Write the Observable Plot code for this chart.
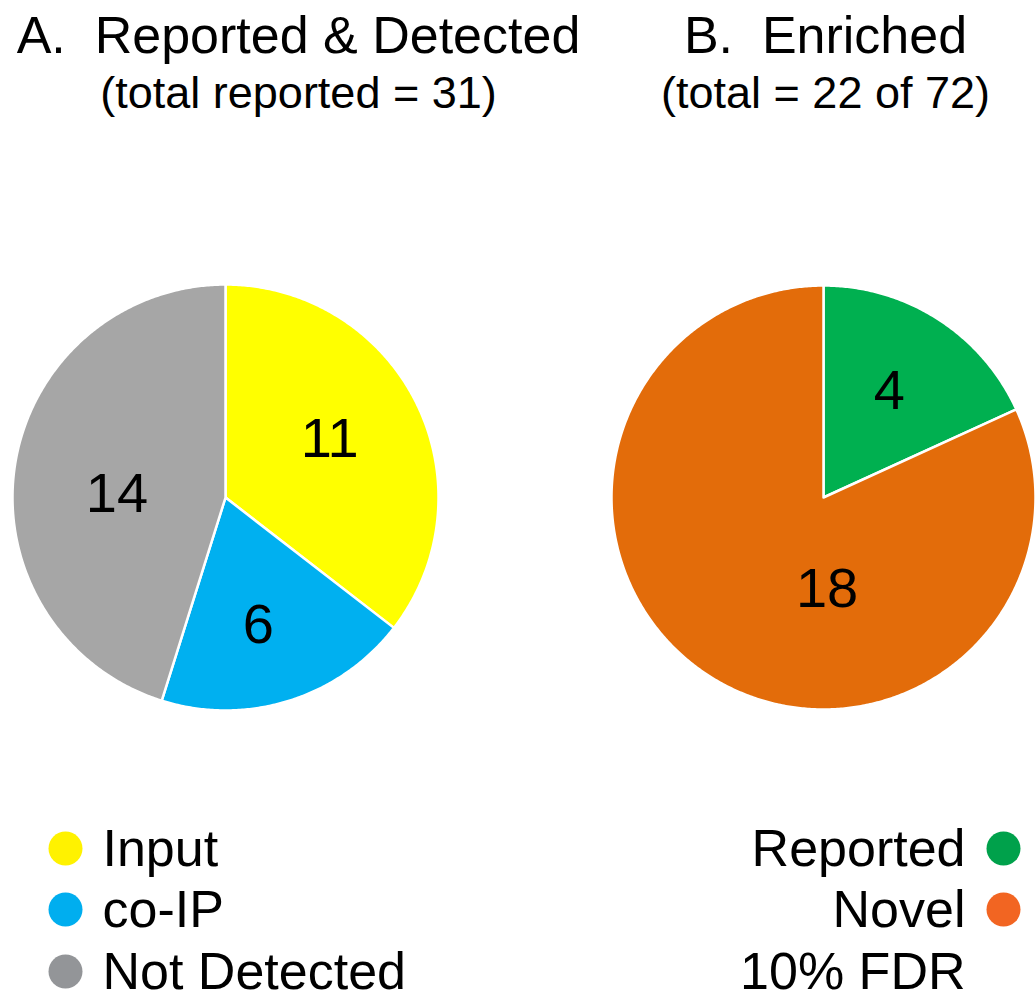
<!DOCTYPE html>
<html><head><meta charset="utf-8">
<script src="https://cdn.jsdelivr.net/npm/d3@7"></script>
<script src="https://cdn.jsdelivr.net/npm/@observablehq/plot@0.6"></script>
<style>html,body{margin:0;padding:0;background:#fff} svg{display:block}</style>
</head><body><div id="chart"></div>
<script>
// ---- data ----
const categoriesA = ["Input", "co-IP", "Not Detected"];
const valuesA = [11, 6, 14];
const colorsA = ["#FFFF00", "#00B0F0", "#A6A6A6"];
const legendColorsA = ["#FFF200", "#00AEEF", "#939598"];

const categoriesB = ["Reported", "Novel"];
const valuesB = [4, 18];
const colorsB = ["#00B050", "#E36C0A"];
const legendColorsB = ["#00A14B", "#F26522"];

const titles = ["A.\u00A0\u00A0Reported & Detected", "B.\u00A0\u00A0Enriched"];
const subtitles = ["(total reported = 31)", "(total = 22 of 72)"];
const noteB = "10% FDR";

// ---- layout (not data) ----
const W = 1035, H = 999;
const FONT = "Liberation Sans, Arial, Helvetica, sans-serif";
const pies = [
  {cx: 225, cy: 497, r: 213, titleX: 298, cats: categoriesA, vals: valuesA, cols: colorsA,
   label: [{da: -3, rf: 0.56}, {da: 3, rf: 0.62}, {da: -7, rf: 0.51}]},
  {cx: 823, cy: 497, r: 212, titleX: 825, cats: categoriesB, vals: valuesB, cols: colorsB,
   label: [{da: -1, rf: 0.59}, {da: -35, rf: 0.43}]}
];

const slicePolys = [];
const sliceLabels = [];
pies.forEach((p, pi) => {
  const arcs = d3.pie().sort(null).value(d => d)(p.vals);
  arcs.forEach((a, i) => {
    const id = pi + "-" + i;
    const pts = [{id, x: p.cx, y: p.cy, fill: p.cols[i]}];
    const n = Math.max(4, Math.ceil((a.endAngle - a.startAngle) / (Math.PI / 360)));
    for (let k = 0; k <= n; k++) {
      const t = a.startAngle + (a.endAngle - a.startAngle) * k / n;
      pts.push({id, x: p.cx + p.r * Math.sin(t), y: p.cy - p.r * Math.cos(t), fill: p.cols[i]});
    }
    slicePolys.push(pts);
    const mid = (a.startAngle + a.endAngle) / 2 + p.label[i].da * Math.PI / 180;
    const rr = p.r * p.label[i].rf;
    sliceLabels.push({x: p.cx + rr * Math.sin(mid), y: p.cy - rr * Math.cos(mid), text: String(p.vals[i])});
  });
});

const titleRows = titles.map((t, i) => ({x: pies[i].titleX, y: 52, text: t}));
const subRows = subtitles.map((t, i) => ({x: pies[i].titleX, y: 107, text: t}));

const baselines = [865, 926, 988];
const legA = categoriesA.map((c, i) => ({name: c, color: legendColorsA[i], y: baselines[i]}));
const legB = categoriesB.map((c, i) => ({name: c, color: legendColorsB[i], y: baselines[i]}))
  .concat([{name: noteB, color: null, y: baselines[2]}]);

const marks = [];
slicePolys.forEach(pts => {
  marks.push(Plot.line(pts, {x: "x", y: "y", fill: pts[0].fill, stroke: "#fff", strokeWidth: 2.5,
    strokeLinejoin: "round", curve: "linear-closed"}));
});
marks.push(Plot.text(sliceLabels, {x: "x", y: "y", text: "text", fontSize: 56, fill: "#000",
  fontFamily: FONT, textAnchor: "middle", lineAnchor: "middle"}));
marks.push(Plot.text(titleRows, {x: "x", y: "y", text: "text", fontSize: 52, fill: "#000",
  fontFamily: FONT, textAnchor: "middle", lineAnchor: "bottom"}));
marks.push(Plot.text(subRows, {x: "x", y: "y", text: "text", fontSize: 45, fill: "#000",
  fontFamily: FONT, textAnchor: "middle", lineAnchor: "bottom"}));
// legend A
marks.push(Plot.dot(legA, {x: () => 65, y: d => d.y - 17, r: 17, fill: "color", stroke: null}));
marks.push(Plot.text(legA, {x: () => 102, y: "y", text: "name", fontSize: 52, fill: "#000",
  fontFamily: FONT, textAnchor: "start", lineAnchor: "bottom"}));
// legend B
marks.push(Plot.dot(legB.filter(d => d.color), {x: () => 1003, y: d => d.y - 17, r: 17, fill: "color", stroke: null}));
marks.push(Plot.text(legB, {x: () => 965, y: "y", text: "name", fontSize: 52, fill: "#000",
  fontFamily: FONT, textAnchor: "end", lineAnchor: "bottom"}));

const chart = Plot.plot({
  width: W, height: H,
  margin: 0,
  style: {background: "#fff", overflow: "hidden"},
  x: {type: "linear", domain: [0, W], range: [0, W], axis: null},
  y: {type: "linear", domain: [0, H], range: [0, H], axis: null},
  color: {type: "identity"},
  marks
});
document.getElementById("chart").appendChild(chart);
</script>
</body></html>
